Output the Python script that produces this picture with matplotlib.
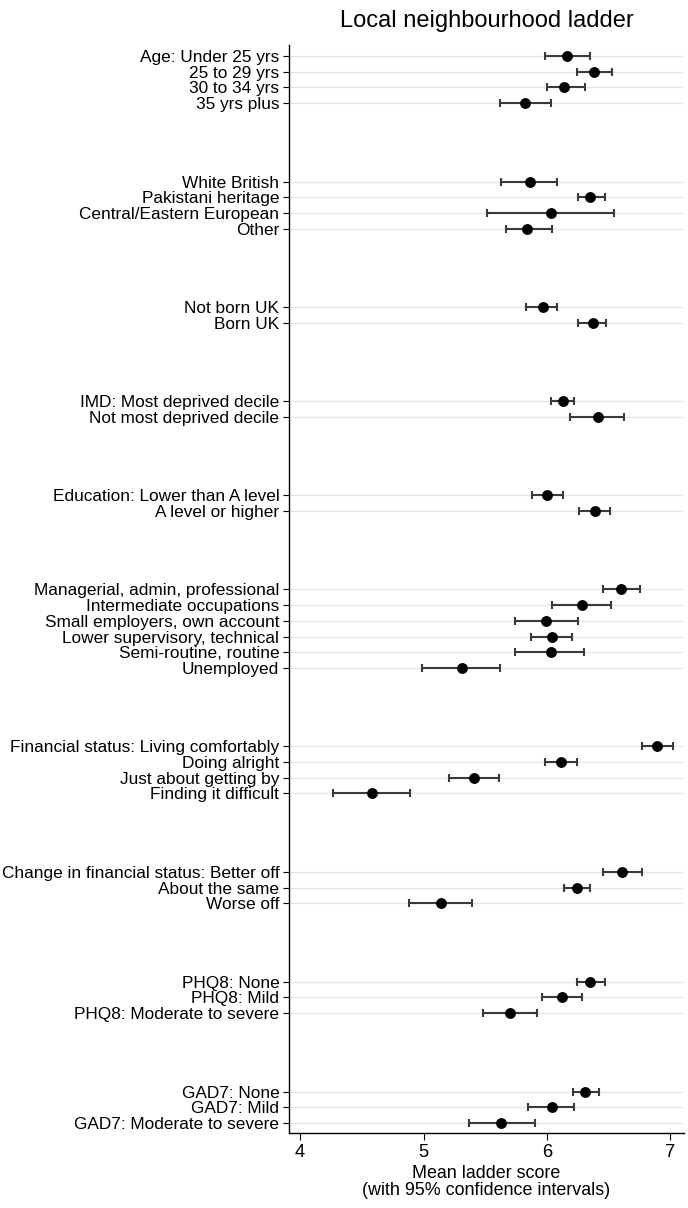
import matplotlib
matplotlib.use("Agg")
import matplotlib.pyplot as plt
import numpy as np

plt.rcParams['font.family'] = ['Liberation Sans', 'DejaVu Sans']

# ---- data ----
age_labels = ["Age: Under 25 yrs", "25 to 29 yrs", "30 to 34 yrs", "35 yrs plus"]
age_mean = [6.16, 6.38, 6.14, 5.82]
age_lo = [5.98, 6.24, 6.00, 5.62]
age_hi = [6.35, 6.53, 6.31, 6.03]

eth_labels = ["White British", "Pakistani heritage", "Central/Eastern European", "Other"]
eth_mean = [5.865, 6.35, 6.03, 5.84]
eth_lo = [5.63, 6.25, 5.51, 5.67]
eth_hi = [6.08, 6.47, 6.54, 6.04]

born_labels = ["Not born UK", "Born UK"]
born_mean = [5.965, 6.37]
born_lo = [5.83, 6.25]
born_hi = [6.08, 6.48]

imd_labels = ["IMD: Most deprived decile", "Not most deprived decile"]
imd_mean = [6.13, 6.41]
imd_lo = [6.03, 6.19]
imd_hi = [6.22, 6.62]

edu_labels = ["Education: Lower than A level", "A level or higher"]
edu_mean = [6.00, 6.39]
edu_lo = [5.88, 6.26]
edu_hi = [6.13, 6.51]

occ_labels = ["Managerial, admin, professional", "Intermediate occupations",
              "Small employers, own account", "Lower supervisory, technical",
              "Semi-routine, routine", "Unemployed"]
occ_mean = [6.60, 6.28, 5.99, 6.04, 6.03, 5.31]
occ_lo = [6.45, 6.04, 5.74, 5.87, 5.74, 4.99]
occ_hi = [6.75, 6.52, 6.25, 6.20, 6.30, 5.62]

fin_labels = ["Financial status: Living comfortably", "Doing alright",
              "Just about getting by", "Finding it difficult"]
fin_mean = [6.89, 6.11, 5.41, 4.58]
fin_lo = [6.77, 5.98, 5.21, 4.27]
fin_hi = [7.02, 6.24, 5.61, 4.89]

chg_labels = ["Change in financial status: Better off", "About the same", "Worse off"]
chg_mean = [6.61, 6.24, 5.14]
chg_lo = [6.45, 6.14, 4.88]
chg_hi = [6.77, 6.35, 5.39]

phq_labels = ["PHQ8: None", "PHQ8: Mild", "PHQ8: Moderate to severe"]
phq_mean = [6.35, 6.12, 5.70]
phq_lo = [6.24, 5.96, 5.48]
phq_hi = [6.47, 6.28, 5.92]

gad_labels = ["GAD7: None", "GAD7: Mild", "GAD7: Moderate to severe"]
gad_mean = [6.31, 6.04, 5.63]
gad_lo = [6.21, 5.85, 5.37]
gad_hi = [6.42, 6.22, 5.90]

x_ticks = [4, 5, 6, 7]
title = "Local neighbourhood ladder"
xlabel = "Mean ladder score\n(with 95% confidence intervals)"

groups = [
    (age_labels, age_mean, age_lo, age_hi),
    (eth_labels, eth_mean, eth_lo, eth_hi),
    (born_labels, born_mean, born_lo, born_hi),
    (imd_labels, imd_mean, imd_lo, imd_hi),
    (edu_labels, edu_mean, edu_lo, edu_hi),
    (occ_labels, occ_mean, occ_lo, occ_hi),
    (fin_labels, fin_mean, fin_lo, fin_hi),
    (chg_labels, chg_mean, chg_lo, chg_hi),
    (phq_labels, phq_mean, phq_lo, phq_hi),
    (gad_labels, gad_mean, gad_lo, gad_hi),
]

labels, means, los, his, ypos = [], [], [], [], []
pos = 0
for lab, m, lo, hi in groups:
    for i in range(len(lab)):
        labels.append(lab[i]); means.append(m[i]); los.append(lo[i]); his.append(hi[i])
        ypos.append(pos)
        pos += 1
    pos += 4
means = np.array(means); los = np.array(los); his = np.array(his); ypos = np.array(ypos)

fig = plt.figure(figsize=(6.88, 12.08), dpi=100)
ax = fig.add_axes([289/688, 1 - 1133/1208, (684-289)/688, (1133-45)/1208])

for y in ypos:
    ax.axhline(y, color='#dfe7ec', lw=1.0, zorder=0)

ax.errorbar(means, ypos, xerr=[means - los, his - means], fmt='none',
            ecolor='#3a3a3a', elinewidth=1.5, capsize=3.2, capthick=1.5, zorder=2)
ax.plot(means, ypos, 'o', color='black', markersize=6.8, zorder=3)

ax.set_ylim(ypos[-1] + 0.64, -0.7)
ax.set_xlim(3.91, 7.11)
ax.set_yticks(ypos)
ax.set_yticklabels(labels, fontsize=12.4)
ax.set_xticks(x_ticks)
ax.set_xticklabels([str(t) for t in x_ticks], fontsize=13.2)
ax.tick_params(axis='y', length=4, width=0.8, pad=3)
ax.tick_params(axis='x', length=5, width=0.8, pad=3)
ax.spines['top'].set_visible(False)
ax.spines['right'].set_visible(False)
ax.spines['left'].set_linewidth(1.0)
ax.spines['bottom'].set_linewidth(1.0)
ax.set_xlabel(xlabel, fontsize=12.9, linespacing=1.0, labelpad=3)
ax.set_title(title, fontsize=17, pad=13)

fig.savefig("out.png", dpi=100)
